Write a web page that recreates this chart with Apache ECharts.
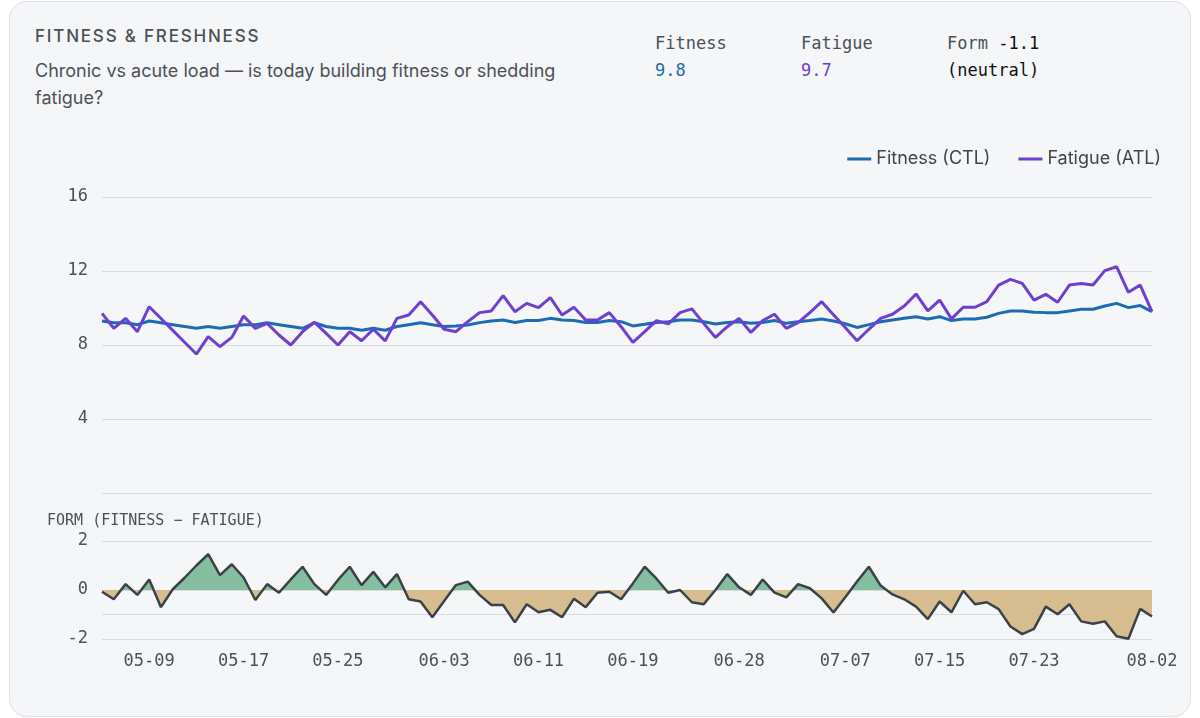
<!DOCTYPE html>
<html><head><meta charset="utf-8">
<script src="https://cdn.jsdelivr.net/npm/echarts@6/dist/echarts.min.js"></script>
<style>
html,body{margin:0;padding:0;background:#fff;width:1200px;height:718px;overflow:hidden;font-family:Inter,"Noto Sans",sans-serif}
#card{position:absolute;left:9px;top:1px;width:1180px;height:714px;border:1px solid #dcdfe4;border-radius:18px;background:#f5f6f8}
#t1{position:absolute;left:35px;top:26px;font-size:17px;letter-spacing:1.8px;color:#4b5157;font-weight:500}
#t2{position:absolute;left:35px;top:57px;width:580px;font-size:18px;line-height:27px;color:#4b5157}
.st{position:absolute;top:30px;font-family:"DejaVu Sans Mono","Liberation Mono",monospace;font-size:17px;line-height:27px;color:#4b5157}
#chart{position:absolute;left:0;top:0;width:1200px;height:718px}
</style></head><body>
<div id="card"></div>
<div id="t1">FITNESS &amp; FRESHNESS</div>
<div id="t2">Chronic vs acute load — is today building fitness or shedding fatigue?</div>
<div class="st" style="left:655px">Fitness<br><span style="color:#1d6bb3">9.8</span></div>
<div class="st" style="left:801px">Fatigue<br><span style="color:#6f3fd0">9.7</span></div>
<div class="st" style="left:947px">Form <span style="color:#111">-1.1</span><br><span style="color:#111">(neutral)</span></div>
<div id="chart"></div>
<script>
const startDate = '2025-05-05';
const tickLabels = ['05-09','05-17','05-25','06-03','06-11','06-19','06-28','07-07','07-15','07-23','08-02'];
const fitness = [9.3,9.2,9.2,9.1,9.3,9.2,9.1,9.0,8.9,9.0,8.9,9.0,9.1,9.1,9.2,9.1,9.0,8.9,9.2,9.0,8.9,8.9,8.8,8.9,8.8,9.0,9.1,9.2,9.1,9.0,
 9.03,9.08,9.21,9.30,9.35,9.22,9.32,9.32,9.44,9.35,9.32,9.22,9.22,9.32,9.26,9.03,9.12,9.22,9.26,9.35,9.35,9.26,9.14,9.22,9.26,9.17,9.22,9.32,9.17,9.26,
 9.32,9.41,9.30,9.15,8.95,9.1,9.26,9.35,9.44,9.53,9.41,9.53,9.32,9.41,9.41,9.50,9.71,9.84,9.84,9.77,9.75,9.75,9.84,9.93,9.93,10.11,10.25,10.02,10.13,9.80];
const fatigue = [9.71,8.90,9.44,8.72,10.07,9.43,8.79,8.15,7.51,8.45,7.91,8.41,9.57,8.90,9.17,8.54,8.0,8.72,9.23,8.63,8.0,8.72,8.23,8.85,8.22,9.44,9.62,10.34,9.62,8.85,
 8.72,9.26,9.75,9.84,10.67,9.80,10.25,10.02,10.56,9.62,10.04,9.35,9.35,9.75,8.99,8.14,8.72,9.32,9.14,9.75,9.95,9.17,8.41,8.99,9.44,8.68,9.32,9.66,8.90,9.21,
 9.75,10.34,9.64,8.94,8.23,8.85,9.44,9.66,10.11,10.76,9.84,10.43,9.41,10.04,10.04,10.34,11.24,11.55,11.33,10.43,10.74,10.31,11.24,11.33,11.24,12.02,12.23,10.85,11.24,9.80];
const form = [-0.07,-0.38,0.24,-0.2,0.43,-0.70,0.03,0.5,1.0,1.46,0.61,1.05,0.51,-0.41,0.24,-0.11,0.43,0.95,0.24,-0.2,0.41,0.95,0.2,0.74,0.11,0.65,-0.38,-0.47,-1.11,-0.45,
 0.2,0.34,-0.2,-0.61,-0.61,-1.32,-0.58,-0.91,-0.81,-1.11,-0.36,-0.70,-0.11,-0.07,-0.38,0.27,0.95,0.46,-0.11,0,-0.5,-0.58,0,0.65,0.11,-0.2,0.43,-0.11,-0.3,0.24,
 0.07,-0.34,-0.92,-0.3,0.35,0.95,0.18,-0.18,-0.38,-0.68,-1.19,-0.47,-0.91,-0.03,-0.58,-0.5,-0.78,-1.49,-1.8,-1.59,-0.68,-0.99,-0.58,-1.28,-1.38,-1.28,-1.89,-1.99,-0.77,-1.08];

const dates = [];
const d0 = new Date(startDate + 'T00:00:00Z');
for (let i = 0; i < fitness.length; i++) {
  const d = new Date(d0.getTime() + i * 86400000);
  dates.push(String(d.getUTCMonth()+1).padStart(2,'0') + '-' + String(d.getUTCDate()).padStart(2,'0'));
}
const mono = '"DejaVu Sans Mono","Liberation Mono",monospace';
const lblInterval = (i, v) => tickLabels.includes(v);
const gridC = '#d9dbdf';
const chart = echarts.init(document.getElementById('chart'));
chart.setOption({
  animation: false,
  legend: {right: 34, top: 145, itemWidth: 24, itemHeight: 3, itemGap: 28, icon: 'rect',
    textStyle: {fontSize: 18, color: '#3f454b', fontFamily: 'Inter'},
    data: ['Fitness (CTL)', 'Fatigue (ATL)']},
  title: {text: 'FORM (FITNESS − FATIGUE)', left: 42, top: 509,
    textStyle: {fontSize: 15, fontWeight: 'normal', color: '#4b5157', fontFamily: mono}},
  grid: [{left: 102, right: 48, top: 197, height: 296}, {left: 102, right: 48, top: 541, height: 98}],
  xAxis: [
    {type: 'category', gridIndex: 0, data: dates, boundaryGap: false,
      axisLine: {show: false}, axisTick: {show: false}, axisLabel: {show: false}},
    {type: 'category', gridIndex: 1, data: dates, boundaryGap: false,
      axisLine: {show: false}, axisTick: {show: false},
      axisLabel: {interval: lblInterval, fontFamily: mono, fontSize: 17, color: '#4b5157', margin: 14}}
  ],
  yAxis: [
    {type: 'value', gridIndex: 0, min: 0, max: 16, interval: 4,
      splitLine: {lineStyle: {color: gridC, width: 1.2}},
      axisLabel: {fontFamily: mono, fontSize: 17, color: '#4b5157', margin: 14,
        formatter: v => v === 0 ? '' : v}},
    {type: 'value', gridIndex: 1, min: -2, max: 2, interval: 1,
      splitLine: {lineStyle: {color: [gridC, gridC, gridC, 'rgba(0,0,0,0)', gridC], width: 1.2}},
      axisLabel: {fontFamily: mono, fontSize: 17, color: '#4b5157', margin: 14,
        formatter: v => (v % 2 === 0 ? String(v) : '')}}
  ],
  visualMap: [{show: false, type: 'piecewise', seriesIndex: 2, dimension: 1,
    pieces: [{gt: 0, lte: 10, color: '#7fba9c'}, {gte: -10, lte: 0, color: '#d4b98a'}]}],
  series: [
    {name: 'Fitness (CTL)', type: 'line', data: fitness, xAxisIndex: 0, yAxisIndex: 0,
      symbol: 'none', lineStyle: {width: 3, color: '#1d6bb3'}, itemStyle: {color: '#1d6bb3'}, z: 3},
    {name: 'Fatigue (ATL)', type: 'line', data: fatigue, xAxisIndex: 0, yAxisIndex: 0,
      symbol: 'none', lineStyle: {width: 3, color: '#6f3fd0'}, itemStyle: {color: '#6f3fd0'}, z: 4},
    {name: 'formArea', type: 'line', data: form, xAxisIndex: 1, yAxisIndex: 1, symbol: 'none',
      lineStyle: {width: 1, opacity: 0}, areaStyle: {opacity: 0.95}},
    {name: 'formLine', type: 'line', data: form, xAxisIndex: 1, yAxisIndex: 1, symbol: 'none',
      lineStyle: {width: 2.5, color: '#3b4246'}, z: 5}
  ]
});
</script></body></html>
